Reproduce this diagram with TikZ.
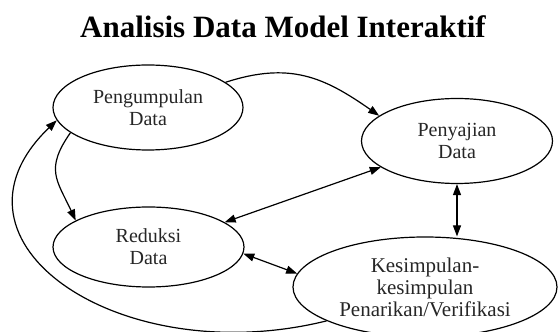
\documentclass[tikz,border=0pt]{standalone}
\usepackage{fontspec}
\setmainfont{Liberation Serif}
\usetikzlibrary{arrows.meta,shapes.geometric}
\tikzset{
  stage/.style={draw, ellipse, align=center, inner sep=0pt, line width=1.2pt, text=black!85, font=\fontsize{20}{22}\selectfont},
  kcollect/.style={stage, minimum width=190pt, minimum height=85pt},
  kreduce/.style={stage, minimum width=191pt, minimum height=80pt},
  kdisplay/.style={stage, minimum width=191pt, minimum height=85pt},
  kconclude/.style={stage, minimum width=264pt, minimum height=100pt, font=\fontsize{21}{22}\selectfont},
  flow/.style={-{Triangle[length=11pt,width=8pt]}, line width=1.2pt},
  twoway/.style={{Triangle[length=11pt,width=8pt]}-{Triangle[length=11pt,width=8pt]}, line width=1.2pt},
}

\begin{document}
\begin{tikzpicture}[x=1pt,y=1pt]
    \useasboundingbox (0,0) rectangle (558,332);
    \node[anchor=base, font=\bfseries\fontsize{31}{36}\selectfont] (title) at (283,294) {Analisis Data Model Interaktif};
    \node[kcollect] (collect) at (148,224.5) {Pengumpulan\\Data};
    \node[kreduce] (reduce) at (148.5,85) {Reduksi\\Data};
    \node[kdisplay] (display) at (457,191) {Penyajian\\Data};
    \node[kconclude] (conclude) at (425,45) {Kesimpulan-\\kesimpulan\\Penarikan/Verifikasi};
    \draw[flow] (collect.18) to[out=18, in=145, looseness=1.1] (display.162);
    \draw[flow] (collect.198) to[out=235, in=115, looseness=1.3] (reduce.160);
    \draw[twoway] (reduce.18) -- (display.199);
    \draw[twoway] (reduce.-4) -- (conclude.174);
    \draw[twoway] (display.south) -- (display.south |- conclude.north);
    \draw[flow] (conclude.199) .. controls (120,-40) and (-70,90) .. (collect.188);
  \end{tikzpicture}
\end{document}
